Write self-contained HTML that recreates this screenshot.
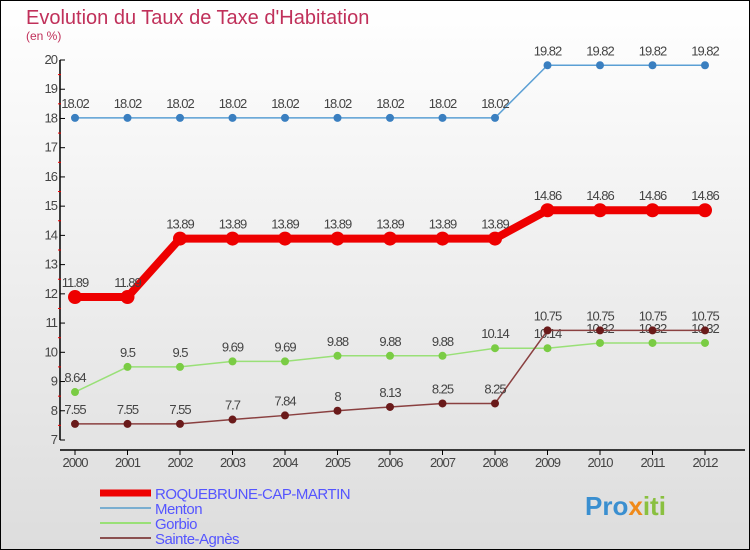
<!DOCTYPE html>
<html><head><meta charset="utf-8"><style>
body{margin:0}
#c{width:750px;height:550px;position:relative;box-sizing:border-box;border:1px solid #000;background:linear-gradient(#fff,#ddd);font-family:"Liberation Sans",sans-serif;overflow:hidden}
</style></head><body>
<div id="c">
<svg width="750" height="550" style="position:absolute;left:-1px;top:-1px">
<text x="26" y="24" font-size="20" fill="#c0305a">Evolution du Taux de Taxe d'Habitation</text>
<text x="26" y="40" font-size="12" fill="#c0305a">(en %)</text>
<g id="axes"></g><g id="series"></g><g id="legend"></g>
<text x="585" y="515" font-size="26" font-weight="bold"><tspan fill="#3a8fd0">Pro</tspan><tspan fill="#f08a1a">x</tspan><tspan fill="#8ac040">iti</tspan></text>
</svg></div>
<script>
const years=[2000,2001,2002,2003,2004,2005,2006,2007,2008,2009,2010,2011,2012];
const roq=[11.89,11.89,13.89,13.89,13.89,13.89,13.89,13.89,13.89,14.86,14.86,14.86,14.86];
const menton=[18.02,18.02,18.02,18.02,18.02,18.02,18.02,18.02,18.02,19.82,19.82,19.82,19.82];
const gorbio=[8.64,9.5,9.5,9.69,9.69,9.88,9.88,9.88,10.14,10.14,10.32,10.32,10.32];
const agnes=[7.55,7.55,7.55,7.7,7.84,8,8.13,8.25,8.25,10.75,10.75,10.75,10.75];
const yTicks=[7,8,9,10,11,12,13,14,15,16,17,18,19,20];
const NS="http://www.w3.org/2000/svg";
const X=i=>75+i*52.5, Y=v=>60+(20-v)*29.23;
function mk(p,t,a){const e=document.createElementNS(NS,t);for(const k in a)e.setAttribute(k,a[k]);p.appendChild(e);return e;}
const ax=document.getElementById('axes');
const yl=mk(ax,'line',{x1:60,y1:Y(20),x2:60,y2:Y(7),stroke:'#000','stroke-width':1.5});


const xl=mk(ax,'line',{x1:60,y1:450,x2:745,y2:450,stroke:'#000','stroke-width':1.5});


yTicks.forEach(v=>{
 mk(ax,'line',{x1:60,y1:Y(v),x2:65,y2:Y(v),stroke:'#000'});
 if(v<20)mk(ax,'line',{x1:58,y1:Y(v+0.5),x2:61,y2:Y(v+0.5),stroke:'#e00'});
 const t=mk(ax,'text',{x:57,y:Y(v)+4,'text-anchor':'end','font-size':13,fill:'#444','letter-spacing':'-1'});t.textContent=v;
 
 
});
years.forEach((y,i)=>{
 mk(ax,'line',{x1:X(i),y1:450,x2:X(i),y2:455,stroke:'#000'});
 const t=mk(ax,'text',{x:X(i),y:467,'text-anchor':'middle','font-size':13,fill:'#444','letter-spacing':'-1'});t.textContent=y;
 
 
});
const sg=document.getElementById('series');
function series(name,vals,col,dot,w,r){
 const g=mk(sg,'g',{});
 
 
 mk(g,'polyline',{points:vals.map((v,i)=>X(i)+','+Y(v)).join(' '),fill:'none',stroke:col,'stroke-width':w});
 vals.forEach((v,i)=>{
  const c=mk(g,'circle',{cx:X(i),cy:Y(v),r:r,fill:dot});
  
  
  const t=mk(g,'text',{x:X(i),y:Y(v)-10,'text-anchor':'middle','font-size':13,fill:'#444','letter-spacing':'-1'});t.textContent=v;
  
  
 });
}
series('menton',menton,'#5a9fd4','#3a7fc0',1.5,4);
series('gorbio',gorbio,'#99e077','#7acc44',1.5,4);
series('sainte-agnes',agnes,'#8a4040','#6a1a1a',1.5,4);
series('roquebrune',roq,'#ee0000','#ee0000',8,7);
const lg=document.getElementById('legend');
[['ROQUEBRUNE-CAP-MARTIN','#ee0000',7],['Menton','#7aaed0',2],['Gorbio','#99e077',2],['Sainte-Agnès','#8a5050',2]].forEach((d,i)=>{
 const y=493+i*15;
 const g=mk(lg,'g',{});
 
 
 mk(g,'line',{x1:100,y1:y,x2:151,y2:y,stroke:d[1],'stroke-width':d[2]});
 const t=mk(g,'text',{x:155,y:y+6,'font-size':15,fill:'#5555ff','letter-spacing':'-0.5'});t.textContent=d[0];
});
</script>
</body></html>
